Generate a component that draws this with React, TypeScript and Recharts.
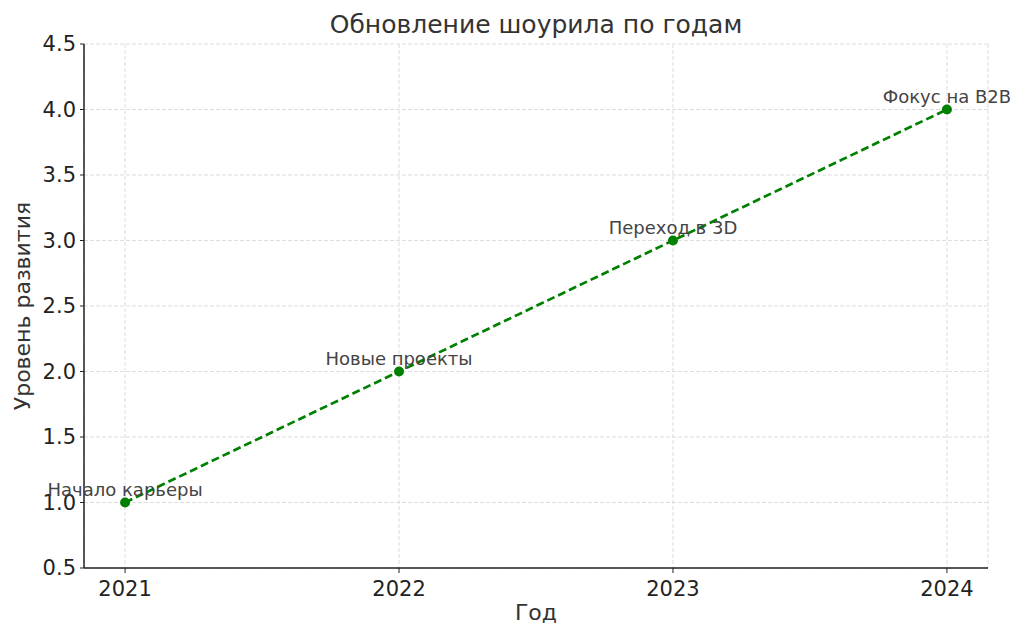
import React from "react";
import { LineChart, Line, XAxis, YAxis, CartesianGrid, LabelList } from "recharts";

const years = [2021, 2022, 2023, 2024];
const levels = [1, 2, 3, 4];
const stageLabels = ["Начало карьеры", "Новые проекты", "Переход в 3D", "Фокус на B2B"];
const yTicks = [0.5, 1.0, 1.5, 2.0, 2.5, 3.0, 3.5, 4.0, 4.5];

const data = years.map((y, i) => ({ year: y, level: levels[i], label: stageLabels[i] }));

const FONT = "'DejaVu Sans', sans-serif";

const PointLabel = (props: any) => {
  const { x, y, value } = props;
  return (
    <text x={x} y={y - 7} textAnchor="middle" fontSize={18} fill="#444" fontFamily={FONT}>
      {value}
    </text>
  );
};

const YLabel = (props: any) => {
  const vb = props.viewBox || {};
  const cy = (vb.y ?? 36) + (vb.height ?? 524) / 2;
  return (
    <text
      x={14}
      y={cy}
      transform={`rotate(-90, 14, ${cy})`}
      textAnchor="middle"
      dominantBaseline="central"
      fontSize={22}
      fill="#333"
      fontFamily={FONT}
    >
      Уровень развития
    </text>
  );
};

export default function App() {
  return (
    <div style={{ width: 1008, height: 622, position: "relative", fontFamily: FONT }}>
      <div
        style={{
          position: "absolute",
          left: 0,
          width: 1056,
          top: 2,
          textAlign: "center",
          fontSize: 25,
          color: "#333",
        }}
      >
        Обновление шоурила по годам
      </div>
      <LineChart width={1008} height={622} data={data} margin={{ top: 36, right: 28, left: 0, bottom: 0 }}>
        <CartesianGrid stroke="#d4d4d4" strokeDasharray="4 2" strokeWidth={0.8} horizontal vertical />
        <XAxis
          dataKey="year"
          type="number"
          domain={[2020.85, 2024.15]}
          ticks={years}
          allowDataOverflow
          height={62}
          tickSize={5}
          tickMargin={8}
          tick={{ fontSize: 21, fill: "#222", fontFamily: FONT }}
          axisLine={{ stroke: "#222", strokeWidth: 1.5 }}
          tickLine={{ stroke: "#222" }}
          label={{ value: "Год", position: "insideBottom", offset: 10, fontSize: 22, fill: "#333", fontFamily: FONT }}
        />
        <YAxis
          type="number"
          domain={[0.5, 4.5]}
          ticks={yTicks}
          allowDataOverflow
          width={76}
          tickSize={4}
          tickMargin={4}
          tickFormatter={(v: number) => v.toFixed(1)}
          tick={{ fontSize: 21, fill: "#222", fontFamily: FONT }}
          axisLine={{ stroke: "#222", strokeWidth: 1.5 }}
          tickLine={{ stroke: "#222" }}
          label={<YLabel />}
        />
        <Line
          dataKey="level"
          stroke="#008000"
          strokeWidth={2.7}
          strokeDasharray="8 4"
          dot={{ r: 5, fill: "#008000", stroke: "#008000", strokeWidth: 0 }}
          isAnimationActive={false}
        >
          <LabelList dataKey="label" content={PointLabel} />
        </Line>
      </LineChart>
    </div>
  );
}
